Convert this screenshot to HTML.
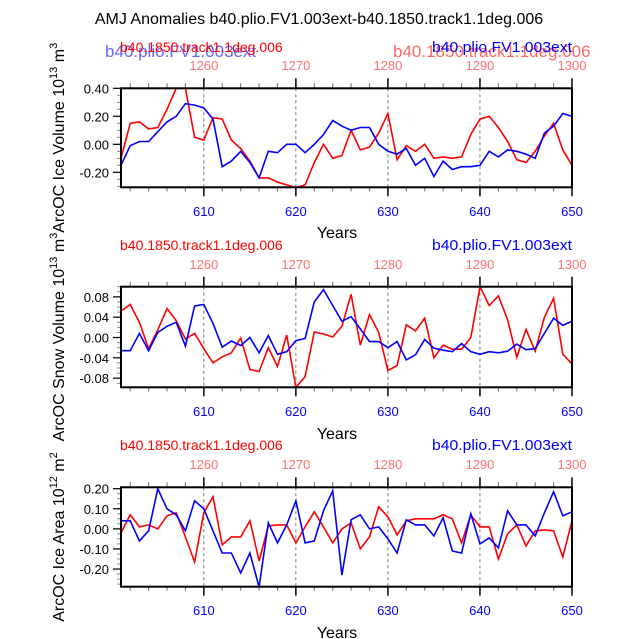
<!DOCTYPE html>
<html><head><meta charset="utf-8"><style>
body{margin:0;background:#fff}
svg{display:block;font-family:"Liberation Sans",sans-serif}
</style></head><body>
<svg id="c" width="638" height="639" viewBox="0 0 638 639">
<text x="319" y="24" text-anchor="middle" font-size="16">AMJ Anomalies b40.plio.FV1.003ext-b40.1850.track1.1deg.006</text>
</svg>
<script>
const years = [];
for (let y = 601; y <= 650; y++) years.push(y);
const topTickLabels = ["1260","1270","1280","1290","1300"];
const bottomTickLabels = ["610","620","630","640","650"];
const volRed = [-0.1,0.15,0.16,0.11,0.12,0.25,0.40,0.40,0.05,0.03,0.19,0.18,0.03,-0.03,-0.12,-0.24,-0.24,-0.27,-0.29,-0.31,-0.29,-0.13,0.00,-0.10,-0.08,0.10,-0.04,-0.02,0.08,0.22,-0.11,-0.01,-0.05,0.00,-0.10,-0.09,-0.10,-0.09,0.07,0.18,0.20,0.12,0.02,-0.11,-0.13,-0.05,0.06,0.15,-0.04,-0.15];
const volBlue = [-0.15,-0.01,0.02,0.02,0.09,0.16,0.20,0.29,0.28,0.26,0.18,-0.16,-0.12,-0.05,-0.13,-0.24,-0.05,-0.06,0.00,0.00,-0.06,0.00,0.07,0.17,0.13,0.10,0.12,0.12,0.00,-0.05,-0.07,-0.03,-0.15,-0.10,-0.23,-0.12,-0.18,-0.16,-0.16,-0.15,-0.05,-0.09,-0.04,-0.05,-0.07,-0.10,0.08,0.13,0.22,0.20];
const snowRed = [0.052,0.065,0.03,-0.022,0.015,0.057,0.033,-0.003,0.008,-0.022,-0.05,-0.038,-0.03,-0.001,-0.063,-0.067,-0.02,-0.057,0.005,-0.098,-0.077,0.011,0.007,0.001,0.022,0.085,-0.015,0.045,0.01,-0.065,-0.055,0.025,0.013,0.038,-0.04,-0.015,-0.023,-0.023,0.0,0.1,0.063,0.082,0.035,-0.039,0.016,-0.027,0.04,0.077,-0.033,-0.052];
const snowBlue = [-0.026,-0.026,0.008,-0.026,0.01,0.022,0.03,-0.017,0.062,0.065,0.028,-0.019,-0.007,-0.016,0.0,-0.03,0.004,-0.033,-0.028,-0.006,-0.002,0.07,0.094,0.063,0.032,0.041,0.017,-0.008,-0.008,-0.02,-0.008,-0.044,-0.034,-0.004,-0.021,-0.025,-0.028,-0.012,-0.028,-0.033,-0.028,-0.03,-0.027,-0.013,-0.024,-0.022,0.008,0.038,0.024,0.032];
const areaRed = [-0.02,0.07,0.01,0.02,0.0,0.065,0.08,-0.04,-0.165,0.08,0.16,-0.08,-0.04,-0.04,0.04,-0.16,0.015,0.02,0.02,-0.07,0.01,0.085,0.01,-0.07,0.0,0.03,-0.1,-0.04,0.11,0.06,-0.03,0.04,0.05,0.05,0.05,0.07,0.05,-0.07,0.07,0.01,0.01,-0.15,-0.025,0.02,-0.085,-0.01,-0.005,-0.01,-0.14,0.04];
const areaBlue = [0.04,0.04,-0.06,-0.01,0.2,0.1,0.07,-0.01,0.14,0.1,-0.01,-0.12,-0.12,-0.22,-0.12,-0.29,0.03,-0.07,0.02,0.14,-0.07,-0.06,0.09,0.19,-0.23,0.045,0.07,0.0,0.01,-0.05,-0.12,0.045,0.02,0.02,-0.035,0.055,-0.11,-0.12,0.075,-0.075,-0.045,-0.095,0.09,0.02,0.02,-0.035,0.08,0.185,0.065,0.085];
const volTicks = [-0.2,0,0.2,0.4], volTickLabels = ["-0.20","0.00","0.20","0.40"];
const snowTicks = [-0.08,-0.04,0,0.04,0.08], snowTickLabels = ["-0.08","-0.04","0.00","0.04","0.08"];
const areaTicks = [-0.2,-0.1,0,0.1,0.2], areaTickLabels = ["-0.20","-0.10","0.00","0.10","0.20"];

const svg = document.getElementById('c');
const NS = 'http://www.w3.org/2000/svg';
function mk(tag, attrs, txt) {
  const e = document.createElementNS(NS, tag);
  for (const k in attrs) e.setAttribute(k, attrs[k]);
  if (txt !== undefined) e.textContent = txt;
  svg.appendChild(e);
  return e;
}
const X0 = 121, X1 = 572;
const xs = v => X0 + (v - 601) * (X1 - X0) / 49;

function panel(p, name, title, sup, sup2, red, blue, ymin, ymax, ticks, tlabels, minorStep, overlap) {
  const ys = v => p.bot - (v - ymin) * (p.bot - p.top) / (ymax - ymin);
  if (overlap) {
    let t = mk('text', {x: 105, y: p.lab + 10, 'font-size': 17, fill: '#6666ff'}, 'b40.plio.FV1.003ext');
    
    
    t = mk('text', {x: 393, y: p.lab + 10, 'font-size': 17, fill: '#ff6666'}, 'b40.1850.track1.1deg.006');
    
    
  }
  let t = mk('text', {x: 120, y: p.lab + 5, 'font-size': 14, fill: '#ff0000'}, 'b40.1850.track1.1deg.006');
  
  
  t = mk('text', {x: 432, y: p.lab + 5, 'font-size': 15, fill: '#0000ff', textLength: 140, lengthAdjust: 'spacingAndGlyphs'}, 'b40.plio.FV1.003ext');
  
  
  [610,620,630,640].forEach(v => {
    const g = mk('line', {x1: xs(v), x2: xs(v), y1: p.top, y2: p.bot, stroke: '#555', 'stroke-width': 0.8, 'stroke-dasharray': '3,3'});
    
    
  });
  for (let y = 602; y <= 650; y += 2) {
    const maj = (y % 10 === 0);
    const l = mk('line', {x1: xs(y), x2: xs(y), y1: p.top, y2: p.top - (maj ? 10 : 5), stroke: maj ? '#000' : '#777', 'stroke-width': maj ? 1.5 : 1.1});
    
    
    const l2 = mk('line', {x1: xs(y), x2: xs(y), y1: p.bot, y2: p.bot + (maj ? 9 : 4), stroke: maj ? '#000' : '#777', 'stroke-width': maj ? 1.5 : 1.1});
    
    
  }
  topTickLabels.forEach((s, i) => {
    const l = mk('text', {x: xs(610 + 10 * i), y: p.topLab + 5, 'font-size': 13, fill: '#ff7070', 'text-anchor': 'middle'}, s);
    
    
  });
  bottomTickLabels.forEach((s, i) => {
    const l = mk('text', {x: xs(610 + 10 * i), y: p.botLab + 5, 'font-size': 13, fill: '#0000ff', 'text-anchor': 'middle'}, s);
    
    
  });
  const start = Math.ceil(ymin / minorStep);
  for (let k = start; k * minorStep <= ymax + 1e-9; k++) {
    const l = mk('line', {x1: X0, x2: X0 - 4, y1: ys(k * minorStep), y2: ys(k * minorStep), stroke: '#888', 'stroke-width': 1});
    
    
  }
  ticks.forEach((v, i) => {
    const l = mk('line', {x1: X0, x2: X0 - 8, y1: ys(v), y2: ys(v), stroke: '#000', 'stroke-width': 1.2});
    
    
    const tx = mk('text', {x: X0 - 12, y: ys(v) + 5, 'font-size': 13, 'text-anchor': 'end'}, tlabels[i]);
    
    
  });
  const pts = arr => arr.map((v, i) => xs(years[i]).toFixed(1) + ',' + ys(v).toFixed(1)).join(' ');
  const clipId = name + '-clip';
  const cp = mk('clipPath', {id: clipId});
  const r = document.createElementNS(NS, 'rect');
  r.setAttribute('x', X0); r.setAttribute('y', p.top); r.setAttribute('width', X1 - X0); r.setAttribute('height', p.bot - p.top);
  cp.appendChild(r);
  const lr = mk('polyline', {points: pts(red), fill: 'none', stroke: '#ff0000', 'stroke-width': 1.6, 'clip-path': 'url(#' + clipId + ')'});
  
  
  const lb = mk('polyline', {points: pts(blue), fill: 'none', stroke: '#0000ff', 'stroke-width': 1.6, 'clip-path': 'url(#' + clipId + ')'});
  
  
  const fr = mk('rect', {x: X0, y: p.top, width: X1 - X0, height: p.bot - p.top, fill: 'none', stroke: '#000', 'stroke-width': 2});
  
  
  const xt = mk('text', {x: 337, y: p.years + 6, 'font-size': 16, 'text-anchor': 'middle'}, 'Years');
  
  
  const cy = (p.top + p.bot) / 2;
  const yt = mk('text', {x: 0, y: 0, 'font-size': 16, 'text-anchor': 'middle', transform: 'translate(64,' + cy + ') rotate(-90)'});
  
  
  yt.appendChild(document.createTextNode(title + ' 10'));
  const s1 = document.createElementNS(NS, 'tspan');
  s1.setAttribute('dy', -7); s1.setAttribute('font-size', 11); s1.textContent = sup;
  yt.appendChild(s1);
  const s2 = document.createElementNS(NS, 'tspan');
  s2.setAttribute('dy', 7); s2.textContent = ' m';
  yt.appendChild(s2);
  const s3 = document.createElementNS(NS, 'tspan');
  s3.setAttribute('dy', -7); s3.setAttribute('font-size', 11); s3.textContent = sup2;
  yt.appendChild(s3);
}

panel({lab: 47, topLab: 65, top: 88.3, bot: 187.3, botLab: 211, years: 232}, 'ice-volume-panel', 'ArcOC Ice Volume', '13', '3', volRed, volBlue, -0.307, 0.40, volTicks, volTickLabels, 0.05, true);
panel({lab: 245, topLab: 264, top: 286.7, bot: 387.3, botLab: 411, years: 433}, 'snow-volume-panel', 'ArcOC Snow Volume', '13', '3', snowRed, snowBlue, -0.098, 0.1, snowTicks, snowTickLabels, 0.01, false);
panel({lab: 445, topLab: 464, top: 487.3, bot: 586.7, botLab: 610, years: 632}, 'ice-area-panel', 'ArcOC Ice Area', '12', '2', areaRed, areaBlue, -0.288, 0.207, areaTicks, areaTickLabels, 0.025, false);
</script>
</body></html>
